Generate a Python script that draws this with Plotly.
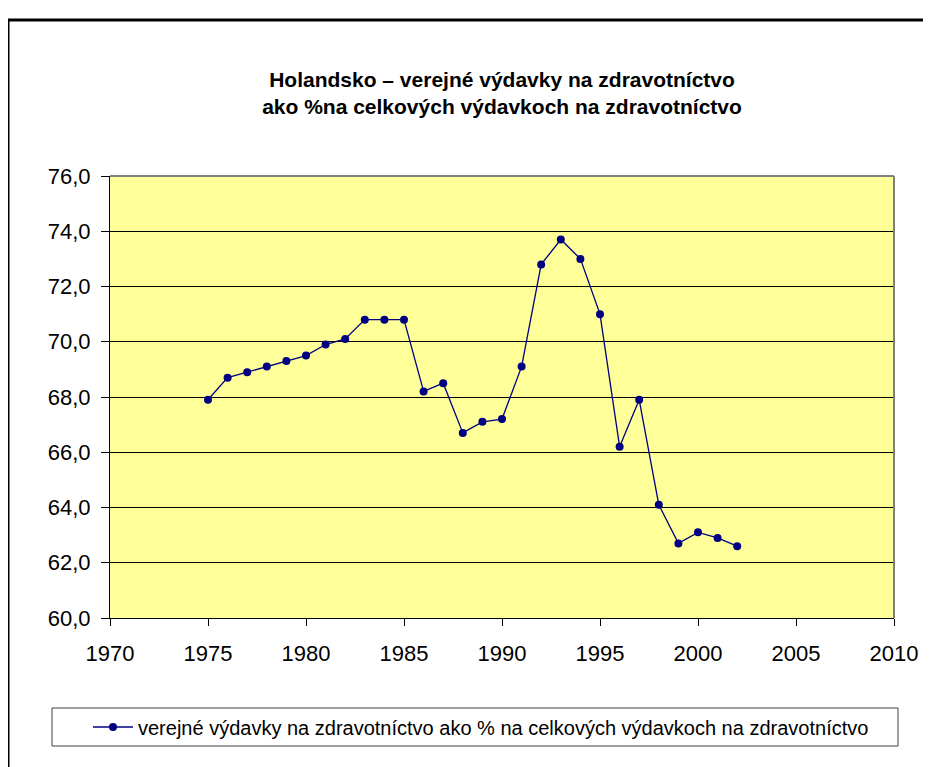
import plotly.graph_objects as go

years = list(range(1975, 2003))
values = [67.9, 68.7, 68.9, 69.1, 69.3, 69.5, 69.9, 70.1, 70.8, 70.8, 70.8,
          68.2, 68.5, 66.7, 67.1, 67.2, 69.1, 72.8, 73.7, 73.0, 71.0,
          66.2, 67.9, 64.1, 62.7, 63.1, 62.9, 62.6]
series_name = "verejné výdavky na zdravotníctvo ako % na celkových výdavkoch na zdravotníctvo"
title_lines = ["Holandsko – verejné výdavky na zdravotníctvo",
               "ako %na celkových výdavkoch na zdravotníctvo"]
x_ticks = [1970, 1975, 1980, 1985, 1990, 1995, 2000, 2005, 2010]
y_ticks = [60, 62, 64, 66, 68, 70, 72, 74, 76]

FONT = "Liberation Sans, Arial, sans-serif"
W, H = 923, 759
L, R, T, B = 102, 37, 168, 149
pw, ph = W - L - R, H - T - B

def px_x(p):
    return (p - L) / pw

def px_y(p):
    return (H - B - p) / ph

fig = go.Figure()
fig.add_trace(go.Scatter(
    x=years, y=values, mode="lines+markers", name=series_name,
    line=dict(color="#000080", width=1.3),
    marker=dict(color="#000080", size=8),
))

fig.update_layout(
    width=W, height=H,
    margin=dict(l=L, r=R, t=T, b=B, autoexpand=False),
    paper_bgcolor="white", plot_bgcolor="#FFFF99",
    separators=", ",
    font=dict(family=FONT, color="black", size=22),
    title=dict(text="<b>" + "<br>".join(title_lines) + "</b>",
               x=0.5, xref="paper", xanchor="center",
               y=1 - 79 / H, yanchor="middle",
               font=dict(family=FONT, size=21, color="black")),
    showlegend=True,
    legend=dict(x=px_x(80), xanchor="left", y=px_y(719), yanchor="middle",
                bgcolor="rgba(0,0,0,0)", borderwidth=0, itemwidth=40,
                font=dict(family=FONT, size=20, color="black")),
    xaxis=dict(range=[1970, 2010], tickvals=x_ticks, showgrid=False, zeroline=False,
               showline=True, linecolor="black", linewidth=1,
               ticks="outside", ticklen=7, tickcolor="black",
               ticklabelstandoff=9, tickfont=dict(size=22)),
    yaxis=dict(range=[60, 76], tickvals=y_ticks, tickformat=".1f",
               showgrid=True, gridcolor="black", gridwidth=1, zeroline=False,
               showline=True, linecolor="black", linewidth=1,
               ticks="outside", ticklen=8, tickcolor="black",
               ticklabelstandoff=6, tickfont=dict(size=22)),
    shapes=[
        dict(type="line", xref="paper", yref="paper", x0=0, x1=1, y0=1, y1=1,
             line=dict(color="#808080", width=2)),
        dict(type="line", xref="paper", yref="paper", x0=1, x1=1, y0=0, y1=1,
             line=dict(color="#808080", width=2)),
        dict(type="rect", xref="paper", yref="paper",
             x0=px_x(44), x1=px_x(890), y0=px_y(700), y1=px_y(738),
             line=dict(color="#404040", width=1), fillcolor="rgba(0,0,0,0)"),
        dict(type="rect", xref="paper", yref="paper",
             x0=px_x(0), x1=px_x(960), y0=px_y(12), y1=px_y(800),
             line=dict(color="black", width=3), fillcolor="rgba(0,0,0,0)"),
    ],
)

fig.write_html("out.html")
